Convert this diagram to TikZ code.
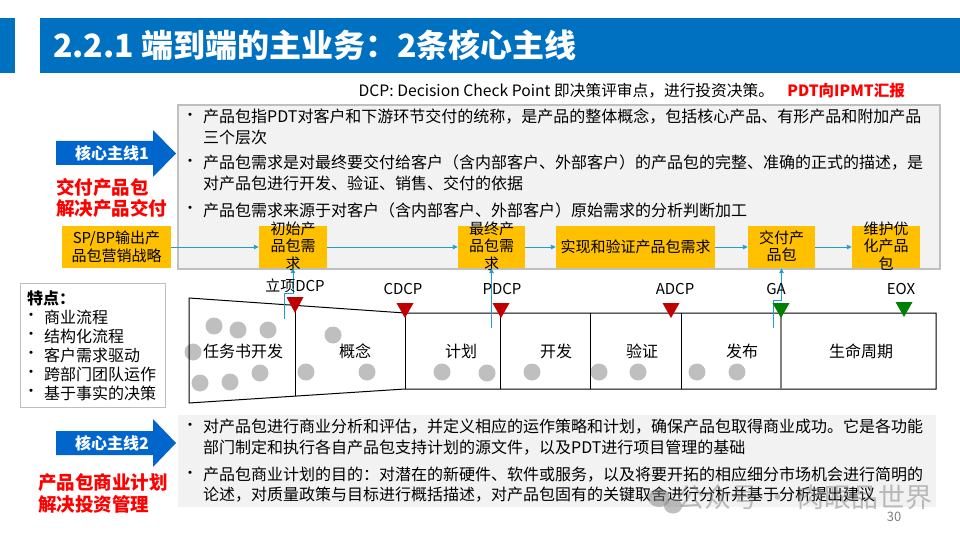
\documentclass[tikz,border=0pt]{standalone}
\usepackage{fontspec}
\setmainfont{Noto Sans CJK SC}
\usetikzlibrary{arrows.meta}
\definecolor{tblue}{RGB}{0,112,192}
\definecolor{ablue}{RGB}{0,102,204}
\definecolor{boxgray}{RGB}{242,242,242}
\definecolor{bordergray}{RGB}{191,191,191}
\definecolor{orng}{RGB}{255,192,0}
\definecolor{lnblue}{RGB}{30,160,205}
\definecolor{dred}{RGB}{192,0,0}
\definecolor{dgreen}{RGB}{0,128,0}
\definecolor{circgray}{RGB}{191,191,191}
\definecolor{brightred}{RGB}{255,0,0}
\newcommand\fsz[2]{\fontsize{#1}{#2}\selectfont}
\begin{document}
\begin{tikzpicture}[x=1pt,y=-1pt,
  txt/.style={inner sep=0pt, anchor=west, font=\fsz{16}{20}},
  bul/.style={inner sep=0pt, font=\fsz{15}{16}},
  obox/.style={fill=orng, draw=none, inner sep=0pt},
  otxt/.style={inner sep=0pt, align=center, font=\fsz{15}{17.5}},
  conn/.style={lnblue, line width=0.9pt, -{Triangle[length=5pt,width=4.5pt]}},
  seg/.style={inner sep=0pt, font=\fsz{16}{18}},
  dcp/.style={inner sep=0pt, font=\fsz{15}{17}},
  dot/.style={circgray},
  redtxt/.style={inner sep=0pt, anchor=west, text=brightred, font=\fsz{18.5}{21}\bfseries},
  arrtxt/.style={inner sep=0pt, text=white, font=\fsz{16}{18}\bfseries}
]
\useasboundingbox (0,0) rectangle (960,540);
\fill[white] (0,0) rectangle (960,540);

% title bar
\fill[tblue] (0,18) rectangle (15,73);
\fill[tblue] (40,18) rectangle (960,73);
\node[inner sep=0pt, anchor=west, text=white, font=\fsz{32}{36}\bfseries] (title) at (53,45) {2.2.1 端到端的主业务：2条核心主线};

% DCP line
\node[inner sep=0pt, anchor=east, text=brightred, font=\fsz{15.5}{18}\bfseries] (pdt) at (905,91) {PDT向IPMT汇报};
\node[inner sep=0pt, anchor=east, font=\fsz{15.7}{18}] (dcpline) at ([xshift=-13pt]pdt.west) {DCP: Decision Check Point 即决策评审点，进行投资决策。};

% gray box 1
\node[fill=boxgray, draw=bordergray, line width=2pt, minimum width=762, minimum height=164, inner sep=0pt] (box1) at (559,187) {};
\node[bul] (d1) at (190,117) {•};
\node[txt] (b1a) at (203,117) {产品包指PDT对客户和下游环节交付的统称，是产品的整体概念，包括核心产品、有形产品和附加产品};
\node[txt] (b1b) at (203,137) {三个层次};
\node[bul] (d2) at (190,163) {•};
\node[txt] (b2a) at (203,163) {产品包需求是对最终要交付给客户（含内部客户、外部客户）的产品包的完整、准确的正式的描述，是};
\node[txt] (b2b) at (203,183) {对产品包进行开发、验证、销售、交付的依据};
\node[bul] (d3) at (190,210) {•};
\node[txt] (b3a) at (203,210) {产品包需求来源于对客户（含内部客户、外部客户）原始需求的分析判断加工};

% arrow 1
\fill[ablue] (56,141) -- (153,141) -- (153,130) -- (176,153.5) -- (153,177) -- (153,165) -- (56,165) -- cycle;
\node[arrtxt] (a1t) at (112,153) {核心主线1};
\node[redtxt] (r1a) at (56,187) {交付产品包};
\node[redtxt] (r1b) at (56,208) {解决产品交付};

% orange boxes
\node[obox, minimum width=109, minimum height=42] (n0) at (116.5,247) {};
\node[otxt, font=\fsz{15}{18}] (n0t) at (n0) {SP/BP输出产\\品包营销战略};
\node[obox, minimum width=68, minimum height=42] (n1) at (293,247) {};
\node[otxt] (n1t) at (293,246) {初始产\\品包需\\求};
\node[obox, minimum width=67, minimum height=42] (n2) at (491.5,247) {};
\node[otxt] (n2t) at (491.5,246) {最终产\\品包需\\求};
\node[obox, minimum width=159, minimum height=42] (n3) at (635.5,247) {};
\node[otxt] (n3t) at (n3) {实现和验证产品包需求};
\node[obox, minimum width=67, minimum height=42] (n4) at (781.5,247) {};
\node[otxt] (n4t) at (781.5,246) {交付产\\品包};
\node[obox, minimum width=68, minimum height=42] (n5) at (886,247) {};
\node[otxt] (n5t) at (886,246) {维护优\\化产品\\包};

\draw[conn] (n0.east) -- (n1.west);
\draw[conn] (n1.east) -- (n2.west);
\draw[conn] (n2.east) -- (n3.west);
\draw[conn] (n3.east) -- (n4.west);
\draw[conn] (n4.east) -- (n5.west);

% features box
\node[draw=bordergray, line width=1pt, fill=white, minimum width=145, minimum height=124, inner sep=0pt] (feat) at (92.5,345) {};
\node[inner sep=0pt, anchor=west, font=\fsz{16}{18}\bfseries] (ft) at (27,298) {特点：};
\node[bul] (f1d) at (31,317) {•};
\node[inner sep=0pt, anchor=west, font=\fsz{16}{18}] (f1) at (44,317) {商业流程};
\node[bul] (f2d) at (31,336) {•};
\node[inner sep=0pt, anchor=west, font=\fsz{16}{18}] (f2) at (44,336) {结构化流程};
\node[bul] (f3d) at (31,355) {•};
\node[inner sep=0pt, anchor=west, font=\fsz{16}{18}] (f3) at (44,355) {客户需求驱动};
\node[bul] (f4d) at (31,374) {•};
\node[inner sep=0pt, anchor=west, font=\fsz{16}{18}] (f4) at (44,374) {跨部门团队运作};
\node[bul] (f5d) at (31,393) {•};
\node[inner sep=0pt, anchor=west, font=\fsz{16}{18}] (f5) at (44,393) {基于事实的决策};

% timeline
\foreach \p in {(214,326),(238,330),(268,330),(193,352),(200,383),(230,382),(260,373),(333,335),(306,372),(367,372),(442,372),(487,373),(532,372),(599,372),(638,372),(697,372),(737,372)}
  \fill[dot] \p circle (8.5);
\draw[black, line width=1pt] (189,298) -- (405,313) -- (936,313) -- (936,389) -- (405,389) -- (189,403) -- cycle;
\draw[black, line width=1pt] (295,305.3) -- (295,396.2);
\draw[black, line width=1pt] (405,313) -- (405,389);
\draw[black, line width=1pt] (500,313) -- (500,389);
\draw[black, line width=1pt] (590,313) -- (590,389);
\draw[black, line width=1pt] (681,313) -- (681,389);
\draw[gray, line width=1.8pt] (781,313) -- (781,389);

\node[seg] (s1) at (243,351) {任务书开发};
\node[seg] (s2) at (355,351) {概念};
\node[seg] (s3) at (461,351) {计划};
\node[seg] (s4) at (556,351) {开发};
\node[seg] (s5) at (642,351) {验证};
\node[seg] (s6) at (742,351) {发布};
\node[seg] (s7) at (861,351) {生命周期};

% connectors up to boxes
\coordinate (c1) at (284,319);
\coordinate (c2) at (491,328);
\coordinate (c3) at (773,328);
\draw[conn] (c1) -- ++(0,-26) -| (n1.south);
\draw[conn] (c2) -- ++(0,-30) -| (n2.south);
\draw[conn] (c3) -- ++(0,-28) -| (n4.south);

% DCP triangles
\fill[dred] (295,313) -- ++(-8.5,-16) -- ++(17,0) -- cycle;
\fill[dred] (405,318) -- ++(-8.5,-15) -- ++(17,0) -- cycle;
\fill[dred] (501,318) -- ++(-8.5,-15) -- ++(17,0) -- cycle;
\fill[dred] (671,318) -- ++(-8.5,-15) -- ++(17,0) -- cycle;
\fill[dgreen] (781,318) -- ++(-8.5,-15) -- ++(17,0) -- cycle;
\fill[dgreen] (904,317) -- ++(-8.5,-15) -- ++(17,0) -- cycle;
\node[dcp] (l1) at (295,286) {立项DCP};
\node[dcp] (l2) at (403,289) {CDCP};
\node[dcp] (l3) at (502,289) {PDCP};
\node[dcp] (l4) at (675,289) {ADCP};
\node[dcp] (l5) at (776,289) {GA};
\node[dcp] (l6) at (901,289) {EOX};

% arrow 2
\fill[ablue] (56,431) -- (153,431) -- (153,419) -- (176,443) -- (153,467) -- (153,455) -- (56,455) -- cycle;
\node[arrtxt] (a2t) at (112,443) {核心主线2};
\node[redtxt] (r2a) at (38,483) {产品包商业计划};
\node[redtxt] (r2b) at (38,504) {解决投资管理};

% gray box 2
\node[fill=boxgray, draw=none, minimum width=758, minimum height=92, inner sep=0pt] (box2) at (557,461) {};
\node[bul] (e1) at (190,427) {•};
\node[txt] (c1a) at (203,427) {对产品包进行商业分析和评估，并定义相应的运作策略和计划，确保产品包取得商业成功。它是各功能};
\node[txt] (c1b) at (203,448) {部门制定和执行各自产品包支持计划的源文件，以及PDT进行项目管理的基础};
\node[bul] (e2) at (190,475) {•};
\node[txt] (c2a) at (203,475) {产品包商业计划的目的：对潜在的新硬件、软件或服务，以及将要开拓的相应细分市场机会进行简明的};
\node[txt] (c2b) at (203,495) {论述，对质量政策与目标进行概括描述，对产品包固有的关键取舍进行分析并基于分析提出建议};

% watermark and page number
\begin{scope}[opacity=0.5]
\fill[gray] (659,498) ellipse (11 and 9);
\fill[gray] (673,506) ellipse (9 and 7.5);
\node[inner sep=0pt, text=gray, font=\fsz{27}{30}] (wm) at (805,497) {公众号 · 肉眼品世界};
\end{scope}
\node[inner sep=0pt, text=gray, font=\fsz{13}{15}] (pg) at (894,517) {30};
\end{tikzpicture}
\end{document}
